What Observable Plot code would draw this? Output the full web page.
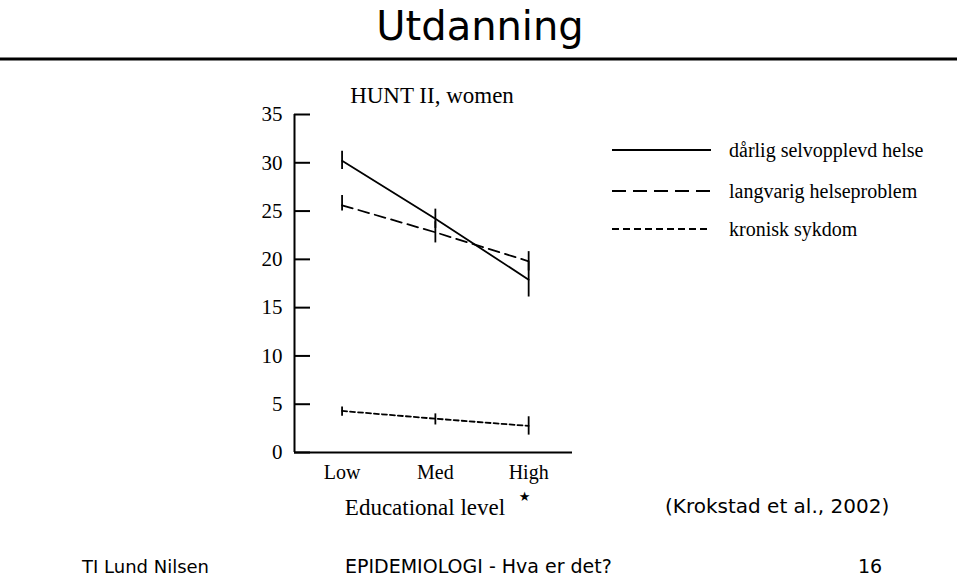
<!DOCTYPE html>
<html>
<head>
<meta charset="utf-8">
<script src="https://cdn.jsdelivr.net/npm/d3@7"></script>
<script src="https://cdn.jsdelivr.net/npm/@observablehq/plot@0.6"></script>
<style>
  html, body { margin: 0; padding: 0; background: #fff; overflow: hidden; }
  #slide { position: relative; width: 960px; height: 579px; background: #fff; }
  #slide > svg { position: absolute; }
</style>
</head>
<body>
<div id="slide"></div>
<script>
// ---- data ----
const levels = ["Low", "Med", "High"];
const seriesNames = ["dårlig selvopplevd helse", "langvarig helseproblem", "kronisk sykdom"];
const poorHealth   = [30.2, 24.2, 17.9];
const poorHealthLo = [29.3, 23.2, 16.1];
const poorHealthHi = [31.2, 25.2, 19.7];
const longTerm     = [25.6, 22.8, 19.8];
const longTermLo   = [25.0, 21.7, 18.8];
const longTermHi   = [26.6, 23.9, 20.8];
const chronic      = [4.3, 3.5, 2.75];
const chronicLo    = [3.75, 2.85, 1.8];
const chronicHi    = [4.7, 4.0, 3.7];
const yTicks = [0, 5, 10, 15, 20, 25, 30, 35];

const chartTitle = "HUNT II, women";
const xLabel = "Educational level";
const slideTitle = "Utdanning";
const citation = "(Krokstad et al., 2002)";
const footerLeft = "TI Lund Nilsen";
const footerMid = "EPIDEMIOLOGI - Hva er det?";
const pageNo = "16";

// ---- build table ----
const seriesVals = [[poorHealth, poorHealthLo, poorHealthHi], [longTerm, longTermLo, longTermHi], [chronic, chronicLo, chronicHi]];
const dashes = [null, "11,6", "5,3"];
const legendDashes = [null, "14,7", "7,4"];
const rows = [];
seriesNames.forEach((s, si) => {
  levels.forEach((lv, li) => {
    rows.push({series: s, level: lv, pos: li + 1, value: seriesVals[si][0][li], lo: seriesVals[si][1][li], hi: seriesVals[si][2][li]});
  });
});

const xDomain = [0.49, 3.47];
const marks = [
  Plot.ruleX([xDomain[0]], {y1: 0, y2: 35, stroke: "black", strokeWidth: 2}),
  Plot.ruleY([0], {stroke: "black", strokeWidth: 2}),
  Plot.axisY({ticks: yTicks, tickSize: 16, dx: 16, tickFormat: () => "", strokeWidth: 2, label: null}),
  Plot.axisY({ticks: yTicks, tickSize: 0, tickPadding: 12, fontSize: 21, label: null}),
  Plot.axisX({ticks: [1, 2, 3], tickFormat: i => levels[i - 1], tickSize: 0, tickPadding: 12, fontSize: 20, label: null})
];
seriesNames.forEach((s, si) => {
  const d = rows.filter(r => r.series === s);
  marks.push(Plot.line(d, {x: "pos", y: "value", stroke: "black", strokeWidth: 1.8, strokeDasharray: dashes[si]}));
  marks.push(Plot.ruleX(d, {x: "pos", y1: "lo", y2: "hi", stroke: "black", strokeWidth: 1.8}));
});

const chart = Plot.plot({
  width: 340,
  height: 420,
  marginLeft: 54,
  marginRight: 8,
  marginTop: 44,
  marginBottom: 38,
  x: {domain: xDomain, axis: null},
  y: {domain: [0, 35], axis: null},
  style: {fontFamily: "'Liberation Serif', 'Times New Roman', serif", color: "black", background: "transparent", overflow: "visible"},
  marks
});
chart.style.left = "240px";
chart.style.top = "70px";
const slide = document.getElementById("slide");
slide.appendChild(chart);

// ---- overlay: slide title, chart title, axis label, legend, footer ----
const ov = d3.create("svg").attr("width", 960).attr("height", 579).style("left", "0px").style("top", "0px").style("pointer-events", "none");
const comic = "'DejaVu Sans', sans-serif";
const serif = "'Liberation Serif', 'Times New Roman', serif";

ov.append("text").attr("x", 480).attr("y", 40).attr("text-anchor", "middle")
  .attr("font-family", comic).attr("font-size", 40).text(slideTitle);
ov.append("line").attr("x1", 0).attr("x2", 957).attr("y1", 59).attr("y2", 59).attr("stroke", "black").attr("stroke-width", 3);

ov.append("text").attr("x", 432).attr("y", 103).attr("text-anchor", "middle")
  .attr("font-family", serif).attr("font-size", 23).text(chartTitle);
ov.append("text").attr("x", 425).attr("y", 515).attr("text-anchor", "middle")
  .attr("font-family", serif).attr("font-size", 23).text(xLabel);
ov.append("text").attr("x", 524.5).attr("y", 501).attr("text-anchor", "middle")
  .attr("font-family", "'DejaVu Sans', sans-serif").attr("font-size", 13).text("★");

const legY = [150, 191, 229];
seriesNames.forEach((s, i) => {
  const ln = ov.append("line").attr("x1", 612).attr("x2", 711).attr("y1", legY[i]).attr("y2", legY[i])
    .attr("stroke", "black").attr("stroke-width", 2.2);
  if (legendDashes[i]) ln.attr("stroke-dasharray", legendDashes[i]);
  ov.append("text").attr("x", 729).attr("y", legY[i] + 6.5).attr("font-family", serif).attr("font-size", 20).text(s);
});

ov.append("text").attr("x", 665).attr("y", 513).attr("font-family", comic).attr("font-size", 20).text(citation);
ov.append("text").attr("x", 82).attr("y", 573).attr("font-family", comic).attr("font-size", 18).text(footerLeft);
ov.append("text").attr("x", 345).attr("y", 573).attr("font-family", comic).attr("font-size", 19).text(footerMid);
ov.append("text").attr("x", 858).attr("y", 573).attr("font-family", comic).attr("font-size", 19).text(pageNo);

slide.appendChild(ov.node());
</script>
</body>
</html>
